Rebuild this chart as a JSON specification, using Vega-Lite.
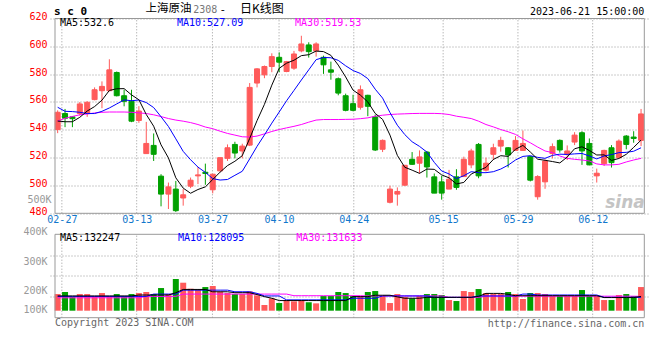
{
"$schema": "https://vega.github.io/schema/vega-lite/v6.json",
"autosize": {"type": "none"},
"padding": {"left": 50, "top": 18.5, "right": 10.7, "bottom": 42.3},
"width": 599.3,
"height": 299.2,
"background": "white",
"config": {"view": {"stroke": null}},
"data": {"values": [
{"d":"2023-02-24","o":540.2,"h":554.0,"l":537.6,"c":552.6,"v":142200,"m5":546.3,"m10":556.2,"m30":546.3,"vm5":134000,"vm10":132000,"vm30":126000},
{"d":"2023-02-27","o":551.7,"h":555.0,"l":541.9,"c":548.3,"v":150900,"m5":545.8,"m10":553.3,"m30":548.3,"vm5":134000,"vm10":132000,"vm30":126000},
{"d":"2023-02-28","o":549.3,"h":549.6,"l":541.9,"c":548.0,"v":130700,"m5":545.8,"m10":553.1,"m30":549.6,"vm5":134000,"vm10":132000,"vm30":126000},
{"d":"2023-03-01","o":551.7,"h":560.0,"l":550.2,"c":558.6,"v":142200,"m5":549.0,"m10":552.6,"m30":550.8,"vm5":134000,"vm10":132000,"vm30":126000},
{"d":"2023-03-02","o":551.7,"h":560.5,"l":549.3,"c":559.8,"v":142200,"m5":553.5,"m10":551.7,"m30":551.4,"vm5":134000,"vm10":132000,"vm30":126000},
{"d":"2023-03-03","o":561.7,"h":570.5,"l":561.2,"c":568.8,"v":133600,"m5":556.7,"m10":551.7,"m30":552.1,"vm5":134000,"vm10":132000,"vm30":126000},
{"d":"2023-03-06","o":568.1,"h":574.8,"l":555.5,"c":571.2,"v":146500,"m5":561.3,"m10":553.3,"m30":552.6,"vm5":134000,"vm10":132000,"vm30":126000},
{"d":"2023-03-07","o":568.1,"h":590.7,"l":567.6,"c":583.1,"v":133600,"m5":568.3,"m10":555.7,"m30":552.8,"vm5":134000,"vm10":132000,"vm30":126000},
{"d":"2023-03-08","o":581.2,"h":581.9,"l":564.0,"c":564.5,"v":142200,"m5":569.5,"m10":558.6,"m30":552.8,"vm5":134000,"vm10":132000,"vm30":126000},
{"d":"2023-03-09","o":564.5,"h":568.8,"l":556.9,"c":560.5,"v":132200,"m5":569.6,"m10":561.5,"m30":552.8,"vm5":134000,"vm10":132000,"vm30":126000},
{"d":"2023-03-10","o":560.5,"h":568.8,"l":545.5,"c":546.2,"v":142200,"m5":565.1,"m10":560.9,"m30":552.6,"vm5":134000,"vm10":132000,"vm30":126000},
{"d":"2023-03-13","o":546.7,"h":557.0,"l":545.0,"c":553.5,"v":146500,"m5":561.6,"m10":561.4,"m30":552.2,"vm5":138000,"vm10":132000,"vm30":126000},
{"d":"2023-03-14","o":522.9,"h":545.7,"l":522.9,"c":530.2,"v":150900,"m5":551.0,"m10":559.6,"m30":551.7,"vm5":138000,"vm10":132000,"vm30":132000},
{"d":"2023-03-15","o":528.8,"h":537.4,"l":517.6,"c":522.4,"v":142200,"m5":542.6,"m10":556.0,"m30":550.8,"vm5":138000,"vm10":142000,"vm30":132000},
{"d":"2023-03-16","o":506.7,"h":508.1,"l":485.0,"c":493.8,"v":168100,"m5":529.2,"m10":549.4,"m30":549.5,"vm5":138000,"vm10":142000,"vm30":132000},
{"d":"2023-03-17","o":493.8,"h":502.1,"l":483.1,"c":499.0,"v":142200,"m5":519.8,"m10":542.4,"m30":548.1,"vm5":138000,"vm10":142000,"vm30":132000},
{"d":"2023-03-20","o":497.4,"h":503.3,"l":481.0,"c":481.9,"v":207000,"m5":505.5,"m10":533.5,"m30":547.0,"vm5":148000,"vm10":142000,"vm30":132000},
{"d":"2023-03-21","o":491.0,"h":497.4,"l":485.5,"c":493.3,"v":191100,"m5":498.1,"m10":524.5,"m30":546.2,"vm5":162000,"vm10":159000,"vm30":142000},
{"d":"2023-03-22","o":499.5,"h":505.7,"l":498.1,"c":503.8,"v":165300,"m5":494.4,"m10":518.5,"m30":545.2,"vm5":162000,"vm10":159000,"vm30":142000},
{"d":"2023-03-23","o":506.9,"h":513.3,"l":501.0,"c":507.6,"v":159500,"m5":497.1,"m10":513.2,"m30":543.8,"vm5":162000,"vm10":159000,"vm30":142000},
{"d":"2023-03-24","o":509.5,"h":515.7,"l":500.5,"c":508.6,"v":172400,"m5":499.0,"m10":509.4,"m30":542.0,"vm5":162000,"vm10":159000,"vm30":142000},
{"d":"2023-03-27","o":496.9,"h":508.1,"l":494.3,"c":508.1,"v":176800,"m5":504.3,"m10":504.9,"m30":540.8,"vm5":152000,"vm10":159000,"vm30":142000},
{"d":"2023-03-28","o":510.5,"h":520.0,"l":510.0,"c":520.0,"v":152300,"m5":509.6,"m10":503.9,"m30":539.0,"vm5":152000,"vm10":159000,"vm30":142000},
{"d":"2023-03-29","o":519.5,"h":529.5,"l":517.6,"c":527.1,"v":146500,"m5":514.3,"m10":504.3,"m30":537.4,"vm5":152000,"vm10":159000,"vm30":142000},
{"d":"2023-03-30","o":529.5,"h":531.4,"l":519.5,"c":523.3,"v":142200,"m5":517.4,"m10":507.3,"m30":536.2,"vm5":148000,"vm10":152000,"vm30":142000},
{"d":"2023-03-31","o":524.8,"h":530.0,"l":519.5,"c":528.3,"v":142200,"m5":521.4,"m10":510.2,"m30":535.0,"vm5":148000,"vm10":152000,"vm30":142000},
{"d":"2023-04-03","o":529.0,"h":573.6,"l":528.3,"c":570.5,"v":153700,"m5":533.8,"m10":519.1,"m30":534.8,"vm5":148000,"vm10":152000,"vm30":142000},
{"d":"2023-04-04","o":573.6,"h":584.3,"l":570.5,"c":583.8,"v":136500,"m5":546.6,"m10":528.1,"m30":535.5,"vm5":140000,"vm10":145000,"vm30":142000},
{"d":"2023-04-06","o":579.5,"h":586.2,"l":577.1,"c":585.5,"v":94800,"m5":558.3,"m10":536.3,"m30":537.1,"vm5":131000,"vm10":134000,"vm30":142000},
{"d":"2023-04-07","o":585.5,"h":595.0,"l":581.4,"c":592.6,"v":123500,"m5":572.1,"m10":544.8,"m30":538.8,"vm5":124000,"vm10":134000,"vm30":142000},
{"d":"2023-04-10","o":592.1,"h":595.7,"l":581.4,"c":588.6,"v":103400,"m5":584.2,"m10":552.8,"m30":540.2,"vm5":114000,"vm10":134000,"vm30":142000},
{"d":"2023-04-11","o":581.9,"h":589.5,"l":581.4,"c":589.0,"v":116300,"m5":587.9,"m10":560.9,"m30":541.4,"vm5":114000,"vm10":117000,"vm30":142000},
{"d":"2023-04-12","o":584.3,"h":596.7,"l":583.1,"c":594.5,"v":110600,"m5":590.0,"m10":568.3,"m30":542.5,"vm5":114000,"vm10":117000,"vm30":135000},
{"d":"2023-04-13","o":596.7,"h":607.6,"l":595.7,"c":601.7,"v":116300,"m5":593.3,"m10":575.8,"m30":543.8,"vm5":114000,"vm10":117000,"vm30":135000},
{"d":"2023-04-14","o":601.0,"h":602.9,"l":591.9,"c":596.2,"v":106300,"m5":594.0,"m10":583.1,"m30":545.5,"vm5":114000,"vm10":117000,"vm30":135000},
{"d":"2023-04-17","o":596.7,"h":602.9,"l":592.6,"c":601.7,"v":102000,"m5":596.6,"m10":590.4,"m30":547.0,"vm5":114000,"vm10":117000,"vm30":135000},
{"d":"2023-04-18","o":592.1,"h":593.3,"l":580.2,"c":586.7,"v":133600,"m5":596.2,"m10":592.0,"m30":547.4,"vm5":114000,"vm10":117000,"vm30":135000},
{"d":"2023-04-19","o":583.1,"h":589.0,"l":576.0,"c":581.4,"v":133600,"m5":593.5,"m10":591.8,"m30":547.4,"vm5":114000,"vm10":117000,"vm30":135000},
{"d":"2023-04-20","o":576.7,"h":577.6,"l":564.8,"c":566.4,"v":150900,"m5":586.5,"m10":589.9,"m30":547.4,"vm5":114000,"vm10":117000,"vm30":135000},
{"d":"2023-04-21","o":564.5,"h":566.0,"l":553.3,"c":554.0,"v":146500,"m5":578.0,"m10":586.0,"m30":547.5,"vm5":114000,"vm10":117000,"vm30":135000},
{"d":"2023-04-24","o":558.8,"h":565.2,"l":553.3,"c":554.0,"v":133600,"m5":568.5,"m10":582.6,"m30":547.6,"vm5":131000,"vm10":124000,"vm30":135000},
{"d":"2023-04-25","o":556.2,"h":571.9,"l":554.5,"c":568.8,"v":133600,"m5":564.9,"m10":580.5,"m30":548.0,"vm5":131000,"vm10":124000,"vm30":135000},
{"d":"2023-04-26","o":564.8,"h":565.2,"l":549.8,"c":556.9,"v":150900,"m5":560.0,"m10":576.8,"m30":548.6,"vm5":131000,"vm10":124000,"vm30":134000},
{"d":"2023-04-27","o":549.3,"h":551.0,"l":524.8,"c":525.5,"v":155200,"m5":551.8,"m10":569.2,"m30":549.8,"vm5":137000,"vm10":124000,"vm30":134000},
{"d":"2023-04-28","o":526.0,"h":533.1,"l":524.0,"c":532.4,"v":133600,"m5":547.5,"m10":562.8,"m30":550.5,"vm5":137000,"vm10":134000,"vm30":134000},
{"d":"2023-05-04","o":487.9,"h":499.8,"l":487.1,"c":497.4,"v":103400,"m5":536.2,"m10":552.4,"m30":551.0,"vm5":137000,"vm10":134000,"vm30":134000},
{"d":"2023-05-05","o":493.8,"h":498.6,"l":485.5,"c":495.7,"v":142200,"m5":521.6,"m10":543.3,"m30":551.3,"vm5":130000,"vm10":134000,"vm30":134000},
{"d":"2023-05-08","o":500.2,"h":514.5,"l":499.8,"c":514.5,"v":129300,"m5":513.1,"m10":536.6,"m30":551.5,"vm5":124000,"vm10":134000,"vm30":134000},
{"d":"2023-05-09","o":518.8,"h":524.0,"l":514.8,"c":515.2,"v":123500,"m5":511.0,"m10":531.4,"m30":551.7,"vm5":124000,"vm10":134000,"vm30":134000},
{"d":"2023-05-10","o":516.0,"h":525.2,"l":508.6,"c":520.5,"v":133600,"m5":508.7,"m10":528.1,"m30":551.8,"vm5":124000,"vm10":134000,"vm30":134000},
{"d":"2023-05-11","o":524.0,"h":524.8,"l":505.7,"c":513.3,"v":142200,"m5":511.8,"m10":524.0,"m30":551.8,"vm5":128000,"vm10":134000,"vm30":134000},
{"d":"2023-05-12","o":506.2,"h":508.6,"l":494.5,"c":494.5,"v":142200,"m5":511.6,"m10":516.6,"m30":551.8,"vm5":128000,"vm10":128000,"vm30":134000},
{"d":"2023-05-15","o":502.6,"h":506.9,"l":489.8,"c":494.5,"v":137900,"m5":507.6,"m10":510.4,"m30":551.6,"vm5":128000,"vm10":128000,"vm30":134000},
{"d":"2023-05-16","o":497.4,"h":511.2,"l":497.4,"c":504.5,"v":116300,"m5":505.5,"m10":508.3,"m30":551.0,"vm5":128000,"vm10":128000,"vm30":128000},
{"d":"2023-05-17","o":506.2,"h":511.7,"l":496.9,"c":498.6,"v":112000,"m5":501.1,"m10":504.9,"m30":549.8,"vm5":128000,"vm10":128000,"vm30":128000},
{"d":"2023-05-18","o":506.4,"h":520.7,"l":506.4,"c":518.8,"v":155200,"m5":502.2,"m10":507.0,"m30":549.0,"vm5":128000,"vm10":128000,"vm30":128000},
{"d":"2023-05-19","o":514.8,"h":526.4,"l":512.4,"c":524.8,"v":150900,"m5":508.2,"m10":509.9,"m30":548.1,"vm5":128000,"vm10":128000,"vm30":128000},
{"d":"2023-05-22","o":529.5,"h":530.5,"l":505.2,"c":506.9,"v":163800,"m5":510.7,"m10":509.2,"m30":546.2,"vm5":132000,"vm10":134000,"vm30":128000},
{"d":"2023-05-23","o":511.0,"h":520.0,"l":510.0,"c":516.0,"v":146500,"m5":513.0,"m10":509.2,"m30":543.8,"vm5":145000,"vm10":134000,"vm30":133000},
{"d":"2023-05-24","o":522.4,"h":530.0,"l":518.3,"c":527.1,"v":142200,"m5":518.7,"m10":509.9,"m30":542.1,"vm5":145000,"vm10":134000,"vm30":133000},
{"d":"2023-05-25","o":528.3,"h":535.0,"l":524.3,"c":532.4,"v":142200,"m5":521.4,"m10":511.8,"m30":540.2,"vm5":145000,"vm10":134000,"vm30":133000},
{"d":"2023-05-26","o":527.1,"h":527.6,"l":512.9,"c":521.9,"v":150900,"m5":520.9,"m10":514.6,"m30":538.6,"vm5":141000,"vm10":134000,"vm30":133000},
{"d":"2023-05-29","o":525.2,"h":535.5,"l":524.8,"c":532.4,"v":142200,"m5":526.0,"m10":518.3,"m30":536.7,"vm5":135000,"vm10":134000,"vm30":133000},
{"d":"2023-05-30","o":525.2,"h":539.5,"l":524.8,"c":530.2,"v":120700,"m5":528.8,"m10":520.9,"m30":533.5,"vm5":135000,"vm10":142000,"vm30":133000},
{"d":"2023-05-31","o":520.7,"h":521.2,"l":502.9,"c":503.8,"v":146500,"m5":524.1,"m10":521.4,"m30":530.7,"vm5":135000,"vm10":142000,"vm30":133000},
{"d":"2023-06-01","o":491.9,"h":507.4,"l":489.8,"c":506.4,"v":146500,"m5":518.9,"m10":520.2,"m30":527.6,"vm5":135000,"vm10":138000,"vm30":133000},
{"d":"2023-06-02","o":502.6,"h":518.6,"l":497.6,"c":517.6,"v":142200,"m5":518.1,"m10":519.5,"m30":524.8,"vm5":135000,"vm10":138000,"vm30":133000},
{"d":"2023-06-05","o":522.9,"h":530.2,"l":519.5,"c":527.9,"v":133600,"m5":517.2,"m10":521.6,"m30":523.6,"vm5":135000,"vm10":138000,"vm30":133000},
{"d":"2023-06-06","o":532.4,"h":533.1,"l":523.6,"c":525.5,"v":133600,"m5":516.2,"m10":522.5,"m30":521.2,"vm5":135000,"vm10":138000,"vm30":133000},
{"d":"2023-06-07","o":522.4,"h":528.8,"l":518.3,"c":524.8,"v":133600,"m5":520.4,"m10":522.3,"m30":519.5,"vm5":135000,"vm10":138000,"vm30":133000},
{"d":"2023-06-08","o":531.2,"h":538.3,"l":529.0,"c":536.2,"v":133600,"m5":526.4,"m10":522.7,"m30":518.8,"vm5":135000,"vm10":138000,"vm30":133000},
{"d":"2023-06-09","o":537.9,"h":539.0,"l":514.8,"c":524.8,"v":159500,"m5":527.8,"m10":523.0,"m30":518.3,"vm5":135000,"vm10":138000,"vm30":133000},
{"d":"2023-06-12","o":530.2,"h":533.8,"l":514.5,"c":514.8,"v":133600,"m5":525.2,"m10":521.2,"m30":517.6,"vm5":135000,"vm10":138000,"vm30":133000},
{"d":"2023-06-13","o":506.9,"h":512.1,"l":502.1,"c":508.8,"v":133600,"m5":521.9,"m10":519.1,"m30":515.5,"vm5":135000,"vm10":138000,"vm30":133000},
{"d":"2023-06-14","o":515.7,"h":525.7,"l":514.0,"c":525.2,"v":116300,"m5":522.0,"m10":521.2,"m30":514.8,"vm5":127000,"vm10":128000,"vm30":133000},
{"d":"2023-06-15","o":527.1,"h":529.0,"l":512.9,"c":516.4,"v":116300,"m5":518.0,"m10":522.2,"m30":514.8,"vm5":127000,"vm10":128000,"vm30":133000},
{"d":"2023-06-16","o":520.0,"h":533.1,"l":520.0,"c":531.9,"v":137900,"m5":519.4,"m10":523.6,"m30":515.2,"vm5":127000,"vm10":128000,"vm30":133000},
{"d":"2023-06-19","o":535.5,"h":536.2,"l":526.0,"c":529.5,"v":142200,"m5":522.4,"m10":523.8,"m30":516.9,"vm5":127000,"vm10":128000,"vm30":133000},
{"d":"2023-06-20","o":534.8,"h":539.0,"l":530.7,"c":533.8,"v":133600,"m5":527.4,"m10":524.6,"m30":518.3,"vm5":127000,"vm10":128000,"vm30":133000},
{"d":"2023-06-21","o":532.4,"h":555.0,"l":528.3,"c":551.4,"v":172400,"m5":532.6,"m10":527.1,"m30":519.5,"vm5":132000,"vm10":128000,"vm30":132000}
]},
"transform": [{"window": [{"op": "row_number", "as": "n"}], "sort": [{"field": "d"}]}],
"resolve": {"scale": {"y": "independent"}},
"encoding": {"x": {"field": "n", "type": "quantitative", "scale": {"domain": [0.64, 80.44], "nice": false, "zero": false},
  "axis": {"values": [1.57, 11.7, 21.96, 30.98, 41.1, 53.2, 63.33, 73.45],
    "labelExpr": "datum.value < 5 ? '02-27' : datum.value < 15 ? '03-13' : datum.value < 25 ? '03-27' : datum.value < 35 ? '04-10' : datum.value < 45 ? '04-24' : datum.value < 58 ? '05-15' : datum.value < 68 ? '05-29' : '06-12'",
    "offset": -104.4, "grid": false, "ticks": false, "domain": false,
    "labelColor": "#1177cc", "labelFont": "DejaVu Sans Mono", "labelFontSize": 10, "labelPadding": 1.5, "labelFlush": false, "labelOverlap": false, "title": null}}},
"layer": [
 {"transform": [{"filter": "datum.n == 1"}], "mark": {"type": "rule", "color": "#999999", "strokeDash": [1, 2], "strokeWidth": 1}, "encoding": {"x": {"datum": 1.57}, "y": {"datum": 480, "type": "quantitative", "scale": {"domain": [480, 620], "range": [194.8, 0], "nice": false, "zero": false}, "axis": null}, "y2": {"datum": 620}}},
 {"transform": [{"filter": "datum.n == 1"}], "mark": {"type": "rule", "color": "#999999", "strokeDash": [1, 2], "strokeWidth": 1}, "encoding": {"x": {"datum": 11.7}, "y": {"datum": 480, "type": "quantitative", "scale": {"domain": [480, 620], "range": [194.8, 0], "nice": false, "zero": false}, "axis": null}, "y2": {"datum": 620}}},
 {"transform": [{"filter": "datum.n == 1"}], "mark": {"type": "rule", "color": "#999999", "strokeDash": [1, 2], "strokeWidth": 1}, "encoding": {"x": {"datum": 21.96}, "y": {"datum": 480, "type": "quantitative", "scale": {"domain": [480, 620], "range": [194.8, 0], "nice": false, "zero": false}, "axis": null}, "y2": {"datum": 620}}},
 {"transform": [{"filter": "datum.n == 1"}], "mark": {"type": "rule", "color": "#999999", "strokeDash": [1, 2], "strokeWidth": 1}, "encoding": {"x": {"datum": 30.98}, "y": {"datum": 480, "type": "quantitative", "scale": {"domain": [480, 620], "range": [194.8, 0], "nice": false, "zero": false}, "axis": null}, "y2": {"datum": 620}}},
 {"transform": [{"filter": "datum.n == 1"}], "mark": {"type": "rule", "color": "#999999", "strokeDash": [1, 2], "strokeWidth": 1}, "encoding": {"x": {"datum": 41.1}, "y": {"datum": 480, "type": "quantitative", "scale": {"domain": [480, 620], "range": [194.8, 0], "nice": false, "zero": false}, "axis": null}, "y2": {"datum": 620}}},
 {"transform": [{"filter": "datum.n == 1"}], "mark": {"type": "rule", "color": "#999999", "strokeDash": [1, 2], "strokeWidth": 1}, "encoding": {"x": {"datum": 53.2}, "y": {"datum": 480, "type": "quantitative", "scale": {"domain": [480, 620], "range": [194.8, 0], "nice": false, "zero": false}, "axis": null}, "y2": {"datum": 620}}},
 {"transform": [{"filter": "datum.n == 1"}], "mark": {"type": "rule", "color": "#999999", "strokeDash": [1, 2], "strokeWidth": 1}, "encoding": {"x": {"datum": 63.33}, "y": {"datum": 480, "type": "quantitative", "scale": {"domain": [480, 620], "range": [194.8, 0], "nice": false, "zero": false}, "axis": null}, "y2": {"datum": 620}}},
 {"transform": [{"filter": "datum.n == 1"}], "mark": {"type": "rule", "color": "#999999", "strokeDash": [1, 2], "strokeWidth": 1}, "encoding": {"x": {"datum": 73.45}, "y": {"datum": 480, "type": "quantitative", "scale": {"domain": [480, 620], "range": [194.8, 0], "nice": false, "zero": false}, "axis": null}, "y2": {"datum": 620}}},
 {"transform": [{"filter": "datum.n == 1"}], "mark": {"type": "rule", "color": "#999999", "strokeDash": [1, 2], "strokeWidth": 1}, "encoding": {"x": {"datum": 1.57}, "y": {"datum": 40100, "type": "quantitative", "scale": {"domain": [40100, 400000], "range": [299.2, 215.8], "nice": false, "zero": false}, "axis": null}, "y2": {"datum": 400000}}},
 {"transform": [{"filter": "datum.n == 1"}], "mark": {"type": "rule", "color": "#999999", "strokeDash": [1, 2], "strokeWidth": 1}, "encoding": {"x": {"datum": 11.7}, "y": {"datum": 40100, "type": "quantitative", "scale": {"domain": [40100, 400000], "range": [299.2, 215.8], "nice": false, "zero": false}, "axis": null}, "y2": {"datum": 400000}}},
 {"transform": [{"filter": "datum.n == 1"}], "mark": {"type": "rule", "color": "#999999", "strokeDash": [1, 2], "strokeWidth": 1}, "encoding": {"x": {"datum": 21.96}, "y": {"datum": 40100, "type": "quantitative", "scale": {"domain": [40100, 400000], "range": [299.2, 215.8], "nice": false, "zero": false}, "axis": null}, "y2": {"datum": 400000}}},
 {"transform": [{"filter": "datum.n == 1"}], "mark": {"type": "rule", "color": "#999999", "strokeDash": [1, 2], "strokeWidth": 1}, "encoding": {"x": {"datum": 30.98}, "y": {"datum": 40100, "type": "quantitative", "scale": {"domain": [40100, 400000], "range": [299.2, 215.8], "nice": false, "zero": false}, "axis": null}, "y2": {"datum": 400000}}},
 {"transform": [{"filter": "datum.n == 1"}], "mark": {"type": "rule", "color": "#999999", "strokeDash": [1, 2], "strokeWidth": 1}, "encoding": {"x": {"datum": 41.1}, "y": {"datum": 40100, "type": "quantitative", "scale": {"domain": [40100, 400000], "range": [299.2, 215.8], "nice": false, "zero": false}, "axis": null}, "y2": {"datum": 400000}}},
 {"transform": [{"filter": "datum.n == 1"}], "mark": {"type": "rule", "color": "#999999", "strokeDash": [1, 2], "strokeWidth": 1}, "encoding": {"x": {"datum": 53.2}, "y": {"datum": 40100, "type": "quantitative", "scale": {"domain": [40100, 400000], "range": [299.2, 215.8], "nice": false, "zero": false}, "axis": null}, "y2": {"datum": 400000}}},
 {"transform": [{"filter": "datum.n == 1"}], "mark": {"type": "rule", "color": "#999999", "strokeDash": [1, 2], "strokeWidth": 1}, "encoding": {"x": {"datum": 63.33}, "y": {"datum": 40100, "type": "quantitative", "scale": {"domain": [40100, 400000], "range": [299.2, 215.8], "nice": false, "zero": false}, "axis": null}, "y2": {"datum": 400000}}},
 {"transform": [{"filter": "datum.n == 1"}], "mark": {"type": "rule", "color": "#999999", "strokeDash": [1, 2], "strokeWidth": 1}, "encoding": {"x": {"datum": 73.45}, "y": {"datum": 40100, "type": "quantitative", "scale": {"domain": [40100, 400000], "range": [299.2, 215.8], "nice": false, "zero": false}, "axis": null}, "y2": {"datum": 400000}}},
 {"mark": {"type": "rule", "strokeWidth": 1},
  "encoding": {"y": {"field": "l", "type": "quantitative", "scale": {"domain": [480, 620], "range": [194.8, 0], "nice": false, "zero": false},
      "axis": {"values": [480, 500, 520, 540, 560, 580, 600, 620], "grid": true, "gridDash": [1, 2], "gridColor": "#999999", "ticks": false, "domain": false, "orient": "left",
        "labelColor": "#ff0000", "labelFont": "DejaVu Sans Mono", "labelFontSize": 10, "labelPadding": 3, "labelOffset": -2, "labelFlush": false, "labelOverlap": false, "title": null}},
    "y2": {"field": "h"},
    "color": {"condition": {"test": "datum.c >= datum.o", "value": "#ff5a5a"}, "value": "#00a000"}}},
 {"mark": {"type": "bar", "width": 5, "strokeWidth": 1, "orient": "vertical"},
  "encoding": {"y": {"field": "o", "type": "quantitative", "scale": {"domain": [480, 620], "range": [194.8, 0], "nice": false, "zero": false}, "axis": null},
    "y2": {"field": "c"},
    "fill": {"condition": {"test": "datum.c >= datum.o", "value": "#ff5a5a"}, "value": "#00a000"},
    "stroke": {"condition": {"test": "datum.c >= datum.o", "value": "#ff5a5a"}, "value": "#00a000"}}},
 {"mark": {"type": "line", "strokeWidth": 1, "color": "#ff00ff"},
  "encoding": {"y": {"field": "m30", "type": "quantitative", "scale": {"domain": [480, 620], "range": [194.8, 0], "nice": false, "zero": false}, "axis": null}}},
 {"mark": {"type": "line", "strokeWidth": 1, "color": "#0000ff"},
  "encoding": {"y": {"field": "m10", "type": "quantitative", "scale": {"domain": [480, 620], "range": [194.8, 0], "nice": false, "zero": false}, "axis": null}}},
 {"mark": {"type": "line", "strokeWidth": 1, "color": "#000000"},
  "encoding": {"y": {"field": "m5", "type": "quantitative", "scale": {"domain": [480, 620], "range": [194.8, 0], "nice": false, "zero": false}, "axis": null}}},
 {"mark": {"type": "bar", "width": 6, "orient": "vertical"},
  "encoding": {"y": {"field": "v", "type": "quantitative", "scale": {"domain": [40100, 400000], "range": [299.2, 215.8], "nice": false, "zero": false},
      "axis": {"values": [130100, 220100, 310000], "grid": true, "gridDash": [1, 2], "gridColor": "#999999", "labels": false, "ticks": false, "domain": false, "orient": "left", "title": null}},
    "y2": {"datum": 70300},
    "color": {"condition": {"test": "datum.c >= datum.o", "value": "#ff5a5a"}, "value": "#00a000"}}},
 {"mark": {"type": "line", "strokeWidth": 1, "color": "#ff00ff"},
  "encoding": {"y": {"field": "vm30", "type": "quantitative", "scale": {"domain": [40100, 400000], "range": [299.2, 215.8], "nice": false, "zero": false},
    "axis": {"values": [100000, 200000, 300000, 400000], "labelExpr": "(datum.value / 1000) + 'K'", "grid": false, "ticks": false, "domain": false, "orient": "left",
      "labelColor": "#999999", "labelFont": "DejaVu Sans Mono", "labelFontSize": 10, "labelPadding": 3, "labelFlush": false, "labelOverlap": false, "title": null,
      "labelOffset": {"expr": "datum.value == 100000 ? 6 : datum.value == 200000 ? 10 : datum.value == 300000 ? 4 : -3"}}}}},
 {"mark": {"type": "line", "strokeWidth": 1, "color": "#0000ff"},
  "encoding": {"y": {"field": "vm10", "type": "quantitative", "scale": {"domain": [40100, 400000], "range": [299.2, 215.8], "nice": false, "zero": false}, "axis": null}}},
 {"mark": {"type": "line", "strokeWidth": 1, "color": "#000000"},
  "encoding": {"y": {"field": "vm5", "type": "quantitative", "scale": {"domain": [40100, 400000], "range": [299.2, 215.8], "nice": false, "zero": false}, "axis": null}}},
 {"transform": [{"filter": "datum.n == 1"}], "mark": {"type": "rect", "filled": false, "color": "#999999", "strokeWidth": 1},
  "encoding": {"x": {"datum": 0.64}, "x2": {"datum": 80.44}, "y": {"datum": 480, "type": "quantitative", "scale": {"domain": [480, 620], "range": [194.8, 0], "nice": false, "zero": false}, "axis": null}, "y2": {"datum": 620}}},
 {"transform": [{"filter": "datum.n == 1"}], "mark": {"type": "rect", "filled": false, "color": "#999999", "strokeWidth": 1},
  "encoding": {"x": {"datum": 0.64}, "x2": {"datum": 80.44}, "y": {"datum": 40100, "type": "quantitative", "scale": {"domain": [40100, 400000], "range": [299.2, 215.8], "nice": false, "zero": false}, "axis": null}, "y2": {"datum": 400000}}},
 {"transform": [{"filter": "datum.n == 1"}], "mark": {"type": "text", "align": "left", "baseline": "middle", "font": "DejaVu Sans Mono", "fontSize": 11, "fontWeight": "bold", "color": "#000000"},
  "encoding": {"x": {"datum": 0.51}, "y": {"datum": 624.7, "type": "quantitative", "scale": {"domain": [480, 620], "range": [194.8, 0], "nice": false, "zero": false}, "axis": null}, "text": {"value": "s c 0"}}},
 {"transform": [{"filter": "datum.n == 1"}], "mark": {"type": "text", "align": "left", "baseline": "middle", "font": "Noto Sans CJK SC", "fontSize": 11.5, "color": "#000000"},
  "encoding": {"x": {"datum": 12.9}, "y": {"datum": 626.6, "type": "quantitative", "scale": {"domain": [480, 620], "range": [194.8, 0], "nice": false, "zero": false}, "axis": null}, "text": {"value": "上海原油"}}},
 {"transform": [{"filter": "datum.n == 1"}], "mark": {"type": "text", "align": "left", "baseline": "middle", "font": "DejaVu Sans Mono", "fontSize": 10, "color": "#777777"},
  "encoding": {"x": {"datum": 19.35}, "y": {"datum": 626.0, "type": "quantitative", "scale": {"domain": [480, 620], "range": [194.8, 0], "nice": false, "zero": false}, "axis": null}, "text": {"value": "2308"}}},
 {"transform": [{"filter": "datum.n == 1"}], "mark": {"type": "text", "align": "left", "baseline": "middle", "font": "DejaVu Sans Mono", "fontSize": 11, "color": "#000000"},
  "encoding": {"x": {"datum": 22.9}, "y": {"datum": 626.0, "type": "quantitative", "scale": {"domain": [480, 620], "range": [194.8, 0], "nice": false, "zero": false}, "axis": null}, "text": {"value": "-"}}},
 {"transform": [{"filter": "datum.n == 1"}], "mark": {"type": "text", "align": "left", "baseline": "middle", "font": "Noto Sans CJK SC", "fontSize": 12, "color": "#000000"},
  "encoding": {"x": {"datum": 25.69}, "y": {"datum": 626.6, "type": "quantitative", "scale": {"domain": [480, 620], "range": [194.8, 0], "nice": false, "zero": false}, "axis": null}, "text": {"value": "日K线图"}}},
 {"transform": [{"filter": "datum.n == 1"}], "mark": {"type": "text", "align": "right", "baseline": "middle", "font": "DejaVu Sans Mono", "fontSize": 10, "color": "#000000"},
  "encoding": {"x": {"datum": 80.44}, "y": {"datum": 624.9, "type": "quantitative", "scale": {"domain": [480, 620], "range": [194.8, 0], "nice": false, "zero": false}, "axis": null}, "text": {"value": "2023-06-21 15:00:00"}}},
 {"transform": [{"filter": "datum.n == 1"}], "mark": {"type": "text", "align": "left", "baseline": "middle", "font": "DejaVu Sans Mono", "fontSize": 10, "color": "#000000"},
  "encoding": {"x": {"datum": 1.31}, "y": {"datum": 616.6, "type": "quantitative", "scale": {"domain": [480, 620], "range": [194.8, 0], "nice": false, "zero": false}, "axis": null}, "text": {"value": "MA5:532.6"}}},
 {"transform": [{"filter": "datum.n == 1"}], "mark": {"type": "text", "align": "left", "baseline": "middle", "font": "DejaVu Sans Mono", "fontSize": 10, "color": "#0000ff"},
  "encoding": {"x": {"datum": 17.16}, "y": {"datum": 616.6, "type": "quantitative", "scale": {"domain": [480, 620], "range": [194.8, 0], "nice": false, "zero": false}, "axis": null}, "text": {"value": "MA10:527.09"}}},
 {"transform": [{"filter": "datum.n == 1"}], "mark": {"type": "text", "align": "left", "baseline": "middle", "font": "DejaVu Sans Mono", "fontSize": 10, "color": "#ff00ff"},
  "encoding": {"x": {"datum": 33.15}, "y": {"datum": 616.6, "type": "quantitative", "scale": {"domain": [480, 620], "range": [194.8, 0], "nice": false, "zero": false}, "axis": null}, "text": {"value": "MA30:519.53"}}},
 {"transform": [{"filter": "datum.n == 1"}], "mark": {"type": "text", "align": "right", "baseline": "middle", "font": "DejaVu Sans Mono", "fontSize": 10, "color": "#999999"},
  "encoding": {"x": {"datum": 0.17}, "y": {"datum": 489.6, "type": "quantitative", "scale": {"domain": [480, 620], "range": [194.8, 0], "nice": false, "zero": false}, "axis": null}, "text": {"value": "500K"}}},
 {"transform": [{"filter": "datum.n == 1"}], "mark": {"type": "text", "align": "right", "baseline": "middle", "font": "DejaVu Sans", "fontSize": 17, "fontWeight": "bold", "fontStyle": "italic", "color": "#c4c4c4"},
  "encoding": {"x": {"datum": 80.5}, "y": {"datum": 487.4, "type": "quantitative", "scale": {"domain": [480, 620], "range": [194.8, 0], "nice": false, "zero": false}, "axis": null}, "text": {"value": "sina"}}},
 {"transform": [{"filter": "datum.n == 1"}], "mark": {"type": "text", "align": "left", "baseline": "middle", "font": "DejaVu Sans Mono", "fontSize": 10, "color": "#000000"},
  "encoding": {"x": {"datum": 1.31}, "y": {"datum": 385400, "type": "quantitative", "scale": {"domain": [40100, 400000], "range": [299.2, 215.8], "nice": false, "zero": false}, "axis": null}, "text": {"value": "MA5:132247"}}},
 {"transform": [{"filter": "datum.n == 1"}], "mark": {"type": "text", "align": "left", "baseline": "middle", "font": "DejaVu Sans Mono", "fontSize": 10, "color": "#0000ff"},
  "encoding": {"x": {"datum": 17.3}, "y": {"datum": 385400, "type": "quantitative", "scale": {"domain": [40100, 400000], "range": [299.2, 215.8], "nice": false, "zero": false}, "axis": null}, "text": {"value": "MA10:128095"}}},
 {"transform": [{"filter": "datum.n == 1"}], "mark": {"type": "text", "align": "left", "baseline": "middle", "font": "DejaVu Sans Mono", "fontSize": 10, "color": "#ff00ff"},
  "encoding": {"x": {"datum": 33.3}, "y": {"datum": 385400, "type": "quantitative", "scale": {"domain": [40100, 400000], "range": [299.2, 215.8], "nice": false, "zero": false}, "axis": null}, "text": {"value": "MA30:131633"}}},
 {"transform": [{"filter": "datum.n == 1"}], "mark": {"type": "text", "align": "left", "baseline": "middle", "font": "DejaVu Sans Mono", "fontSize": 10, "color": "#666666"},
  "encoding": {"x": {"datum": 0.64}, "y": {"datum": 16000, "type": "quantitative", "scale": {"domain": [40100, 400000], "range": [299.2, 215.8], "nice": false, "zero": false}, "axis": null}, "text": {"value": "Copyright 2023 SINA.COM"}}},
 {"transform": [{"filter": "datum.n == 1"}], "mark": {"type": "text", "align": "right", "baseline": "middle", "font": "DejaVu Sans Mono", "fontSize": 10, "color": "#666666"},
  "encoding": {"x": {"datum": 80.44}, "y": {"datum": 14200, "type": "quantitative", "scale": {"domain": [40100, 400000], "range": [299.2, 215.8], "nice": false, "zero": false}, "axis": null}, "text": {"value": "http://finance.sina.com.cn"}}}
]
}
